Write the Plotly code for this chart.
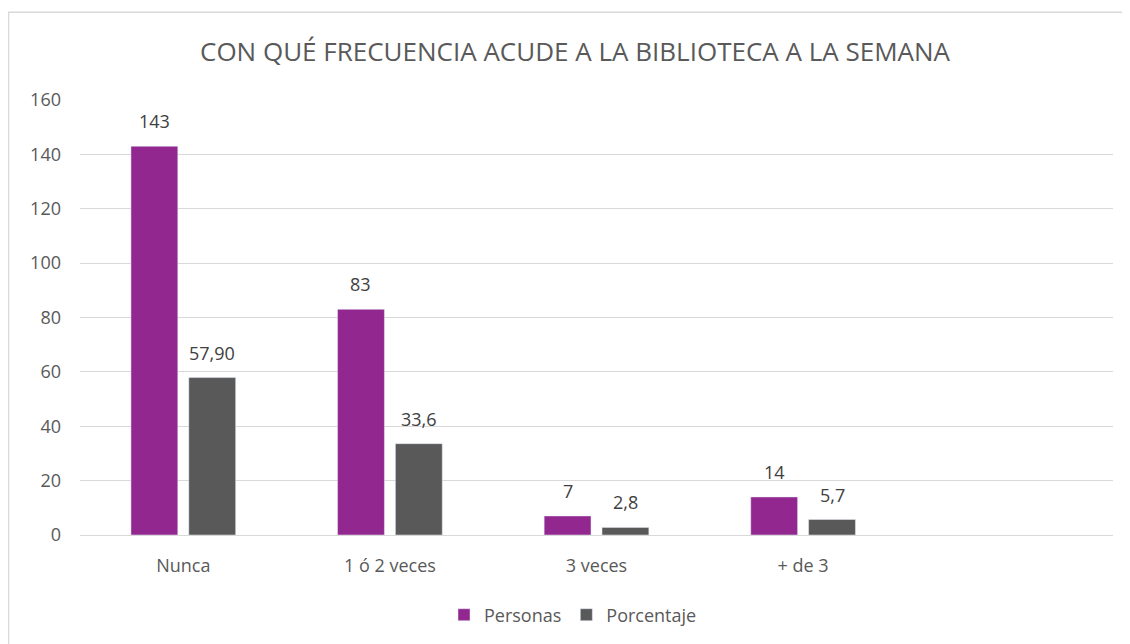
import plotly.graph_objects as go

categorias = ["Nunca", "1 ó 2 veces", "3 veces", "+ de 3", " "]
personas = [143, 83, 7, 14]
porcentaje = [57.9, 33.6, 2.8, 5.7]
etiquetas_personas = ["143", "83", "7", "14"]
etiquetas_porcentaje = ["57,90", "33,6", "2,8", "5,7"]

FONT = "Open Sans, Noto Sans, sans-serif"
GRIS = "#595959"

# la pagina deja 8px de margen en el body, se compensa aqui
W, H = 1122, 636
L, R, T, B = 72, 17, 92, 108
plot_w = W - L - R
plot_h = H - T - B
BARGAP, GROUPGAP = 0.44, 0.19
slot = plot_w / len(categorias) * (1 - BARGAP) / 2

fig = go.Figure()
fig.add_trace(go.Bar(x=categorias[:4], y=personas, name="Personas",
                     marker=dict(color="#92278f")))
fig.add_trace(go.Bar(x=categorias[:4], y=porcentaje, name="Porcentaje",
                     marker=dict(color="#595959")))

# etiquetas de datos encima de cada barra
for serie, etiquetas, lado in [(personas, etiquetas_personas, -1),
                               (porcentaje, etiquetas_porcentaje, 1)]:
    for cat, val, txt in zip(categorias, serie, etiquetas):
        fig.add_annotation(x=cat, y=val, text=txt, showarrow=False,
                           xanchor="center", yanchor="bottom",
                           xshift=lado * slot / 2, yshift=11,
                           font=dict(size=18, color="#404040", family=FONT))

fig.update_layout(
    width=W, height=H,
    margin=dict(l=L, r=R, t=T, b=B),
    paper_bgcolor="white", plot_bgcolor="white",
    font=dict(family=FONT, color=GRIS, size=18),
    title=dict(text="CON QUÉ FRECUENCIA ACUDE A LA BIBLIOTECA A LA SEMANA",
               xref="container", x=567 / W, xanchor="center",
               yref="container", y=1 - 44 / H, yanchor="middle",
               font=dict(size=26, color=GRIS, family=FONT)),
    barmode="group", bargap=BARGAP, bargroupgap=GROUPGAP,
    legend=dict(orientation="h", x=(565 - L) / plot_w, xanchor="center",
                y=-(607 - (T + plot_h)) / plot_h, yanchor="middle",
                font=dict(size=18, color=GRIS), traceorder="normal",
                itemwidth=30),
    showlegend=True,
)
fig.update_xaxes(type="category", categoryorder="array", categoryarray=categorias,
                 range=[-0.5, 4.5], showline=True, linecolor="#d9d9d9", linewidth=1,
                 ticks="", ticklabelstandoff=14,
                 tickfont=dict(size=18, color=GRIS), fixedrange=True)
fig.update_yaxes(range=[0, 160], dtick=20, showgrid=True, gridcolor="#d9d9d9",
                 gridwidth=1, zeroline=False, ticks="", ticklabelstandoff=18,
                 tickfont=dict(size=18, color=GRIS), showline=False)

# borde exterior del grafico
fig.add_shape(type="rect", xref="paper", yref="paper",
              x0=-(L - 0.5) / plot_w, x1=(W + 5 - L) / plot_w,
              y0=-(H + 5 - T - plot_h) / plot_h, y1=(T + plot_h - 4) / plot_h,
              line=dict(color="#d9d9d9", width=1.5), layer="below")

fig.write_html("out.html")
